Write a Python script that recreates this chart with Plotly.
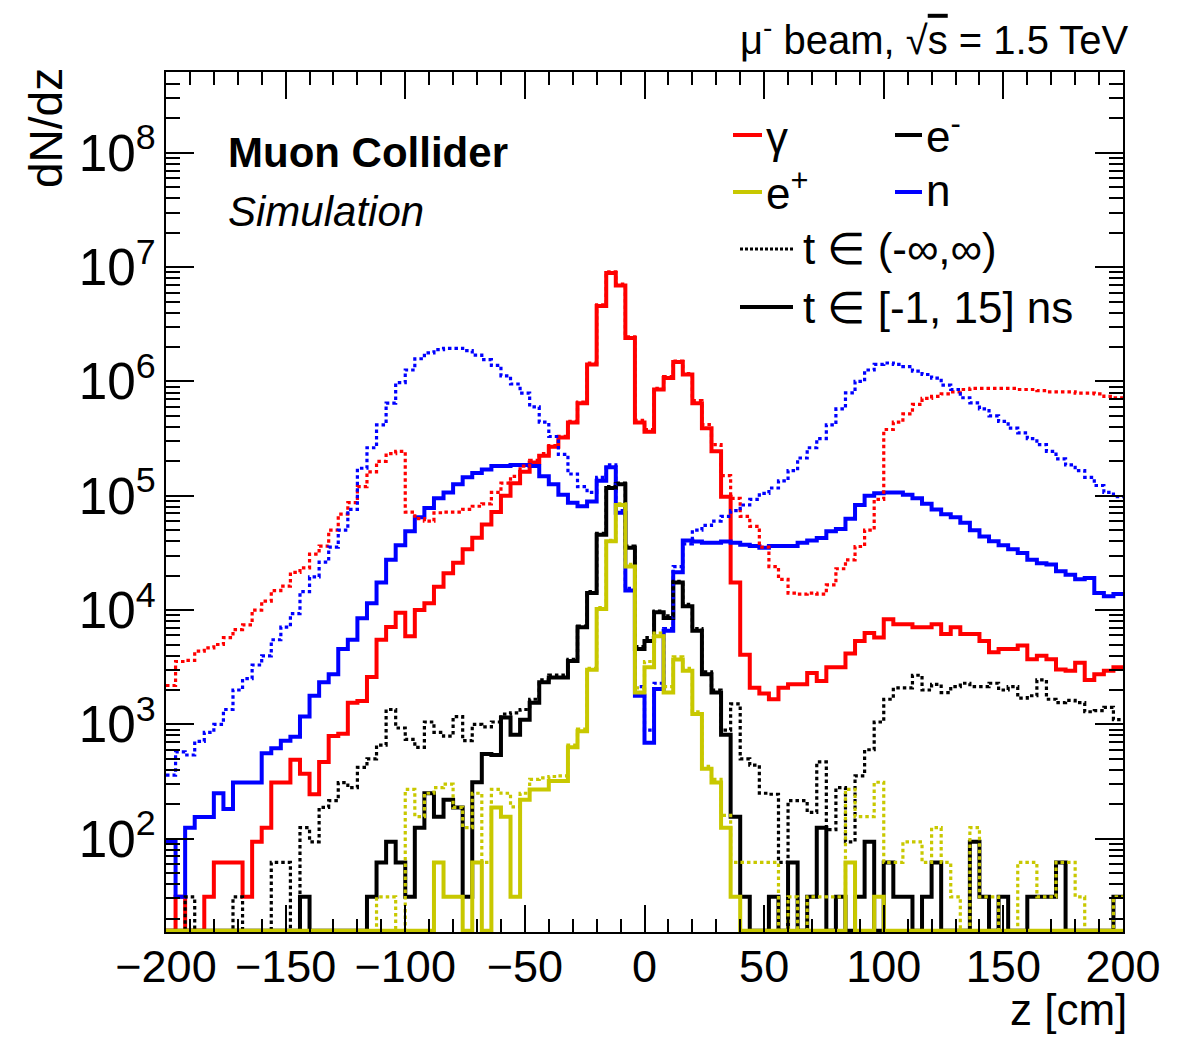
import numpy as np
import plotly.graph_objects as go

# ---------------- data (dN/dz per 4 cm bin, z from -200 to 200 cm) ----------------
z_lo, z_hi, z_bin = -200, 200, 4

# photons, t in [-1, 15] ns
gamma_win = [0, 31, 0, 0, 31, 62, 62, 62, 31, 94,
             125, 310, 310, 490, 370, 245, 470, 790, 830, 1550,
             1600, 2600, 5500, 7100, 9500, 5900, 10000, 11500, 16000, 21000,
             26000, 34000, 43000, 56000, 72000, 100000, 129000, 162000, 195000, 224000,
             269000, 324000, 437000, 646000, 1.41e6, 4.57e6, 8.9e6, 6.9e6, 2.4e6, 4.37e5,
             3.63e5, 8.5e5, 1.07e6, 1.48e6, 1.15e6, 6.46e5, 3.89e5, 2.45e5, 9.8e4, 1.74e4,
             4070, 2090, 1860, 1660, 2090, 2240, 2240, 2820, 2400, 3160,
             3160, 4170, 5370, 6310, 5750, 8320, 7500, 7500, 7080, 7080,
             7500, 6170, 7080, 6170, 6170, 5370, 4270, 4570, 4570, 4900,
             3720, 3980, 3720, 3020, 2950, 3470, 2450, 2750, 2950, 3160]
# photons, all times
gamma_all = [2190, 3550, 3630, 4370, 4680, 5000, 5750, 6760, 7410, 10000,
             12000, 14800, 16200, 21400, 23400, 30900, 36300, 50100, 69000, 87000,
             120000, 162000, 200000, 234000, 245000, 72000, 63000, 60000, 71000, 72000,
             72000, 76000, 81000, 85000, 107000, 129000, 148000, 182000, 204000, 234000,
             275000, 331000, 447000, 661000, 1.45e6, 4.68e6, 9.1e6, 7.1e6, 2.45e6, 4.57e5,
             3.8e5, 8.7e5, 1.1e6, 1.51e6, 1.17e6, 6.8e5, 4.2e5, 2.8e5, 1.5e5, 9.5e4,
             6.6e4, 5.4e4, 3.55e4, 2.4e4, 1.86e4, 1.41e4, 1.38e4, 1.41e4, 1.38e4, 1.66e4,
             2.3e4, 2.75e4, 3.6e4, 5.0e4, 9.3e4, 3.8e5, 4.4e5, 5.2e5, 6.3e5, 7.1e5,
             7.4e5, 7.8e5, 8.1e5, 8.5e5, 8.7e5, 8.7e5, 8.7e5, 8.7e5, 8.7e5, 8.5e5,
             8.5e5, 8.3e5, 8.1e5, 8.1e5, 8.1e5, 7.9e5, 7.9e5, 7.8e5, 7.4e5, 7.2e5]
# neutrons, t in [-1, 15] ns
neutron_win = [94, 31, 125, 155, 155, 250, 182, 310, 310, 310,
               560, 620, 720, 780, 1170, 1780, 2340, 2750, 4570, 5500,
               8500, 11500, 17400, 27500, 37000, 49000, 65000, 78000, 95000, 107000,
               126000, 145000, 158000, 170000, 182000, 182000, 186000, 186000, 182000, 148000,
               126000, 102000, 87000, 81000, 89000, 135000, 178000, 71000, 14800, 1780,
               690, 2040, 6600, 21400, 40700, 39800, 38900, 38900, 39800, 38900,
               37200, 36300, 35100, 36300, 36300, 36300, 38900, 40700, 42700, 49000,
               51300, 63000, 83000, 100000, 105000, 107000, 107000, 102000, 95000, 85000,
               76000, 69000, 65000, 58000, 50000, 44000, 40000, 37000, 34000, 31600,
               27500, 25700, 25100, 21900, 20400, 18600, 19100, 14100, 13200, 13800]
# neutrons, all times
neutron_all = [360, 575, 540, 710, 850, 1000, 1350, 2000, 2510, 3310,
               3980, 5500, 7100, 9300, 14500, 19500, 26300, 35500, 50000, 76000,
               174000, 263000, 417000, 646000, 977000, 1.26e6, 1.58e6, 1.78e6, 1.9e6, 1.95e6,
               1.95e6, 1.86e6, 1.7e6, 1.55e6, 1.38e6, 1.12e6, 9.5e5, 7.9e5, 6.0e5, 4.4e5,
               3.3e5, 2.3e5, 1.55e5, 1.2e5, 1.07e5, 1.45e5, 1.86e5, 7.4e4, 1.55e4, 2140,
               890, 2290, 6900, 24000, 38000, 50000, 55000, 60000, 66000, 74000,
               83000, 93000, 105000, 117000, 135000, 166000, 214000, 263000, 316000, 417000,
               575000, 794000, 1.0e6, 1.26e6, 1.41e6, 1.45e6, 1.41e6, 1.35e6, 1.23e6, 1.15e6,
               1.07e6, 9.3e5, 8.5e5, 7.2e5, 6.5e5, 5.75e5, 5.0e5, 4.47e5, 3.9e5, 3.55e5,
               3.16e5, 2.8e5, 2.45e5, 2.1e5, 1.86e5, 1.66e5, 1.45e5, 1.23e5, 1.07e5, 9.8e4]
# electrons, t in [-1, 15] ns
electron_win = [0, 0, 0, 0, 0, 0, 0, 0, 0, 0,
                0, 0, 0, 0, 31, 0, 0, 0, 0, 0,
                0, 31, 62, 94, 62, 31, 125, 250, 156, 219,
                188, 31, 312, 550, 540, 1150, 810, 1100, 1550, 2340,
                2570, 2570, 3590, 7080, 14100, 45700, 117000, 126000, 35100, 4570,
                5370, 9550, 8510, 17400, 10800, 6600, 2750, 1900, 810, 156,
                31, 0, 0, 31, 0, 62, 0, 31, 125, 0,
                31, 0, 31, 94, 0, 62, 31, 31, 0, 31,
                62, 0, 0, 0, 94, 31, 0, 31, 0, 0,
                31, 31, 31, 62, 0, 0, 0, 0, 0, 31]
# electrons, all times
electron_all = [0, 0, 31, 0, 0, 0, 0, 31, 0, 0,
                0, 62, 62, 0, 125, 94, 188, 215, 310, 280,
                420, 500, 660, 1350, 930, 740, 630, 1050, 850, 790,
                1170, 720, 1000, 950, 1050, 1230, 1260, 1350, 1660, 2450,
                2700, 2700, 3700, 7240, 14500, 46800, 120000, 129000, 36300, 4790,
                5750, 9800, 8900, 17800, 11200, 6900, 2880, 2000, 890, 1510,
                500, 440, 250, 245, 62, 215, 215, 170, 470, 120,
                280, 94, 355, 600, 1050, 1660, 2090, 2090, 2690, 2000,
                2240, 1900, 2140, 2290, 2140, 2140, 2290, 2000, 2140, 1700,
                1780, 2450, 1660, 1550, 1620, 1550, 1290, 1320, 1410, 1100]
# positrons, t in [-1, 15] ns
positron_win = [0, 0, 0, 0, 0, 0, 0, 0, 0, 0,
                0, 0, 0, 0, 0, 0, 0, 0, 0, 0,
                0, 0, 0, 0, 0, 0, 0, 0, 62, 31,
                31, 0, 62, 0, 188, 156, 31, 219, 270, 270,
                320, 320, 630, 870, 3000, 10200, 40000, 83000, 24000, 1900,
                3160, 5900, 1900, 3700, 2950, 1230, 410, 310, 125, 31,
                0, 0, 0, 0, 0, 0, 0, 0, 0, 0,
                0, 62, 0, 0, 31, 0, 0, 0, 0, 0,
                0, 0, 0, 0, 0, 0, 0, 0, 0, 0,
                0, 0, 0, 0, 0, 0, 0, 0, 0, 0]
# positrons, all times
positron_all = [0, 0, 0, 0, 0, 0, 0, 0, 0, 0,
                0, 0, 0, 0, 0, 0, 0, 0, 0, 0,
                0, 0, 31, 31, 0, 270, 156, 250, 280, 300,
                188, 125, 250, 62, 270, 250, 190, 250, 330, 340,
                350, 355, 660, 910, 3090, 10500, 40700, 85000, 25100, 2090,
                3550, 6300, 2140, 3890, 3090, 1290, 430, 330, 160, 62,
                62, 62, 62, 62, 0, 31, 0, 31, 31, 31,
                31, 270, 156, 156, 312, 62, 62, 94, 94, 62,
                125, 62, 31, 0, 125, 31, 31, 0, 0, 62,
                62, 31, 31, 62, 62, 31, 0, 0, 0, 31]

x_ticks = [-200, -150, -100, -50, 0, 50, 100, 150, 200]
legend_labels = ["γ", "e<sup>-</sup>", "e<sup>+</sup>", "n"]

# ---------------- figure ----------------
RED, BLUE, BLACK, YEL = "#ff0000", "#0000ff", "#000000", "#c8c800"
FONT = "Liberation Sans, Arial, Helvetica, sans-serif"
Y_LOG_MIN, Y_LOG_MAX = 1.184, 8.707
floor_val = 10 ** (Y_LOG_MIN + 0.012)   # ROOT draws empty bins on the frame bottom

edges = np.arange(z_lo, z_hi + z_bin, z_bin)


def step_trace(vals, color, width, dash):
    v = np.asarray(vals, dtype=float)
    v = np.where(v > 0, v, floor_val)
    y = np.append(v, v[-1])
    return go.Scatter(x=edges, y=y, mode="lines", line_shape="hv",
                      line=dict(color=color, width=width, dash=dash),
                      showlegend=False, hoverinfo="skip")


fig = go.Figure()
SOLID_W, DOT_W, DOT = 4, 3.2, "3.5px,3px"
fig.add_trace(step_trace(gamma_win, RED, SOLID_W, "solid"))
fig.add_trace(step_trace(neutron_win, BLUE, SOLID_W, "solid"))
fig.add_trace(step_trace(electron_win, BLACK, SOLID_W, "solid"))
fig.add_trace(step_trace(gamma_all, RED, DOT_W, DOT))
fig.add_trace(step_trace(neutron_all, BLUE, DOT_W, DOT))
fig.add_trace(step_trace(electron_all, BLACK, DOT_W, DOT))
fig.add_trace(step_trace(positron_all, YEL, DOT_W, DOT))
fig.add_trace(step_trace(positron_win, YEL, SOLID_W, "solid"))

# the page body has an 8 px margin, so the figure is drawn 8 px in from the corner
OFF = 8
W, H = 1190 - OFF, 1039 - OFF
L, R, T, B = 166, 1123, 72, 932          # frame in window pixels


def px(x):
    return (x - L) / (R - L)


def py(y):
    return (B - y) / (B - T)


fig.update_layout(
    width=W, height=H, autosize=False,
    margin=dict(l=L - OFF, r=W - (R - OFF), t=T - OFF, b=H - (B - OFF), pad=0),
    paper_bgcolor="white", plot_bgcolor="white",
    font=dict(family=FONT, color="black"),
)
fig.update_xaxes(
    range=[z_lo, z_hi], tickvals=x_ticks, ticks="inside", ticklen=27, tickwidth=1.5,
    tickcolor="black", showline=True, linecolor="black", linewidth=2, mirror="ticks",
    showgrid=False, zeroline=False, tickfont=dict(size=45, family=FONT),
    ticklabelstandoff=-6,
    minor=dict(dtick=10, ticks="inside", ticklen=13, tickwidth=1.5, tickcolor="black", showgrid=False),
)
fig.update_yaxes(
    type="log", range=[Y_LOG_MIN, Y_LOG_MAX], dtick=1, exponentformat="power",
    ticks="inside", ticklen=28, tickwidth=1.5, tickcolor="black",
    showline=True, linecolor="black", linewidth=2, mirror="ticks",
    showgrid=False, zeroline=False, tickfont=dict(size=41, family=FONT),
    minor=dict(dtick="D1", ticks="inside", ticklen=14, tickwidth=1.5, tickcolor="black", showgrid=False),
)

ann = []
def text(x, y, s, size, xanchor="left", yanchor="middle", angle=0):
    ann.append(dict(x=px(x), y=py(y), xref="paper", yref="paper", text=s, showarrow=False,
                    xanchor=xanchor, yanchor=yanchor, textangle=angle,
                    font=dict(size=size, family=FONT, color="black")))

text(1131, 37, "μ<sup>-</sup> beam, √<span style='text-decoration:overline'>s</span> = 1.5 TeV", 40, xanchor="right")
text(46, 66, "dN/dz", 46, xanchor="center", yanchor="top", angle=-90)
text(1129, 1010, "z [cm]", 44, xanchor="right")
text(226, 153, "<b>Muon Collider</b>", 42)
text(226, 211, "<i>Simulation</i>", 42)

# legend
shapes = []
def sample(x0, x1, y, color, width, dash="solid"):
    shapes.append(dict(type="line", xref="paper", yref="paper", x0=px(x0), x1=px(x1),
                       y0=py(y), y1=py(y), line=dict(color=color, width=width, dash=dash)))

sample(733, 762, 135, RED, 4)
text(764, 137, legend_labels[0], 44)
sample(895, 922, 135, BLACK, 4)
text(924, 133, legend_labels[1], 44)
sample(733, 762, 192, YEL, 4)
text(764, 190, legend_labels[2], 44)
sample(895, 922, 192, BLUE, 4)
text(924, 190, legend_labels[3], 44)
sample(740, 793, 249, BLACK, 3, "3px,2px")
text(801, 249, "t ∈ (-∞,∞)", 44)
sample(740, 793, 307, BLACK, 4)
text(801, 307, "t ∈ [-1, 15] ns", 44)

fig.update_layout(annotations=ann, shapes=shapes)
fig.write_html("out.html")
